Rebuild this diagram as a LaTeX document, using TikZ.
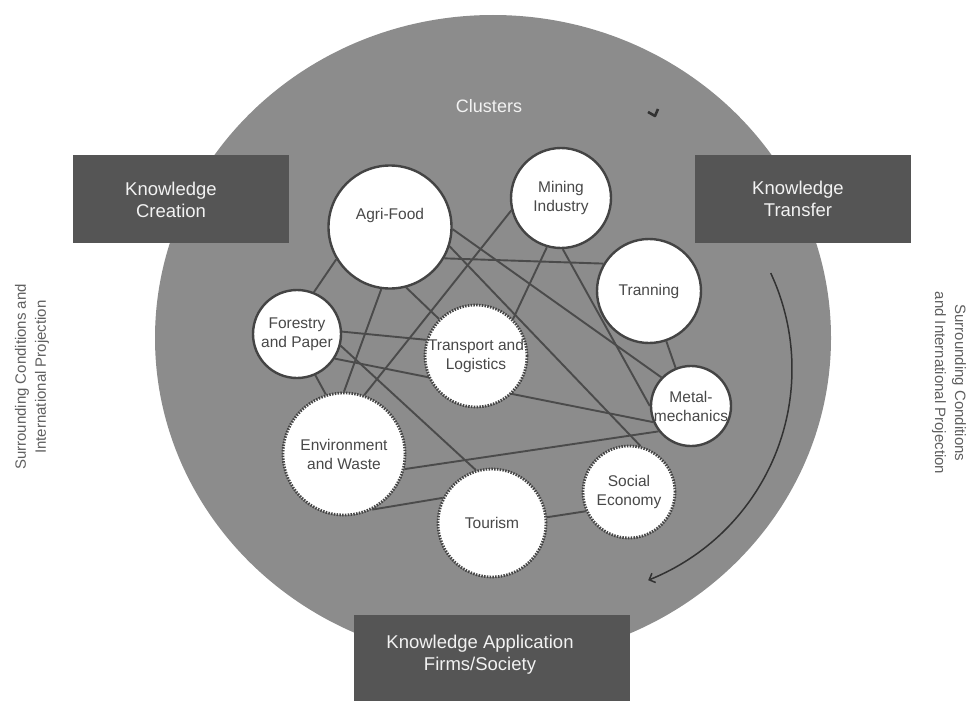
\documentclass[tikz,border=0pt]{standalone}
\usepackage{fontspec}
\setmainfont{Liberation Sans}
\usetikzlibrary{arrows.meta}
\pgfdeclarelayer{back}
\pgfdeclarelayer{edges}
\pgfsetlayers{back,edges,main}
\definecolor{bigfill}{RGB}{140,140,140}
\definecolor{boxc}{RGB}{85,85,85}
\definecolor{boxtxt}{RGB}{242,242,242}
\definecolor{circ}{RGB}{68,68,68}
\definecolor{linec}{RGB}{75,75,75}
\definecolor{nodetxt}{RGB}{72,72,72}
\definecolor{sidetxt}{RGB}{95,95,95}
\definecolor{arrowc}{RGB}{50,50,50}
\newcommand\nodefnt{\fontsize{15.5}{19}\selectfont}
\newcommand\boxfnt{\fontsize{18.5}{22}\selectfont}
\newcommand\sidefnt{\fontsize{15}{20}\selectfont}
\tikzset{
  clbase/.style={circle, draw=circ, fill=white, line width=2.4pt, inner sep=0pt},
  solidc/.style={clbase},
  dotc/.style={clbase, line width=2.8pt, dash pattern=on 1.5pt off 1.3pt},
  lbl/.style={font=\nodefnt, text=nodetxt, align=center, inner sep=0pt},
  link/.style={draw=linec, line width=1.9pt},
  boxst/.style={rectangle, fill=boxc, draw=none, inner sep=0pt},
  boxlbl/.style={font=\boxfnt, text=boxtxt, align=center, inner sep=0pt},
  sidelbl/.style={font=\sidefnt, text=sidetxt, align=center, inner sep=0pt}
}
\begin{document}
\begin{tikzpicture}[x=1pt,y=-1pt]
\useasboundingbox (0,0) rectangle (971,701);
% background disc and boxes
\begin{pgfonlayer}{back}
  \fill[bigfill] (493,338) ellipse [x radius=338, y radius=323];
  \node[boxst, minimum width=216pt, minimum height=88pt] (kcBox) at (181,199) {};
  \node[boxst, minimum width=216pt, minimum height=88pt] (ktBox) at (803,199) {};
  \node[boxst, minimum width=276pt, minimum height=86pt] (kaBox) at (492,658) {};
  \draw[arrowc, line width=1.5pt, -{Straight Barb[length=5pt,width=10pt]}]
    plot[smooth, domain=-25:68.5, samples=40] ({565+227*cos(\x)},{369+227*sin(\x)});
  \draw[arrowc, line width=2.6pt, line join=round] (648,112) -- (655,116) -- (658,109);
\end{pgfonlayer}

% texts outside the clusters
\node[boxlbl] (kcText) at (171,200) {Knowledge\\Creation};
\node[boxlbl] (ktText) at (798,199) {Knowledge\\Transfer};
\node[boxlbl] (kaText) at (480,655) {Knowledge Application\\Firms/Society};
\node[font=\fontsize{18}{21}\selectfont, text=boxtxt, inner sep=0pt] (clusters) at (489,106) {Clusters};
\node[sidelbl, rotate=90] (leftSide) at (32,377) {Surrounding Conditions and\\International Projection};
\node[sidelbl, rotate=-90] (rightSide) at (949,383) {Surrounding Conditions\\and International Projection};

% cluster circles
\node[solidc, minimum size=123pt] (agri) at (390,227) {};
\node[lbl] (agriT) at (390,215) {Agri-Food};
\node[solidc, minimum size=100pt, lbl] (mining) at (561,198) {Mining\\Industry};
\node[solidc, minimum size=104pt, lbl] (tran) at (649,291) {Tranning};
\node[solidc, minimum size=80pt, lbl] (metal) at (691,406) {Metal-\\mechanics};
\node[solidc, minimum size=88pt, lbl] (forest) at (297,334) {Forestry\\and Paper};
\node[dotc, minimum size=102pt, lbl] (transp) at (476,356) {Transport and\\Logistics};
\node[dotc, minimum size=122pt, lbl] (env) at (344,454) {Environment\\and Waste};
\node[dotc, minimum size=108pt, lbl] (tour) at (492,523) {Tourism};
\node[dotc, minimum size=92pt, lbl] (social) at (629,492) {Social\\Economy};

% connectors
\begin{pgfonlayer}{edges}
  \draw[link] (agri.211) -- (forest.68);
  \draw[link] (agri.262.6) -- (env.90.6);
  \draw[link] (agri.285) -- (transp.135.8);
  \draw[link] (agri.358) -- (metal.136.6);
  \draw[link] (agri.342) -- (social.76);
  \draw[link] (agri.330) -- (tran.149.6);
  \draw[link] (forest.3) -- (transp.162);
  \draw[link] (forest.327.4) -- (metal.203.8);
  \draw[link] (forest.345.7) -- (tour.107.6);
  \draw[link] (forest.294.8) -- (env.107);
  \draw[link] (env.71) -- (mining.194);
  \draw[link] (mining.254.7) -- (transp.45.8);
  \draw[link] (mining.272.6) -- (metal.180);
  \draw[link] (tran.289) -- (metal.112);
  \draw[link] (env.346) -- (metal.218.9);
  \draw[link] (env.297) -- (tour.153);
  \draw[link] (tour.6.4) -- (social.204);
\end{pgfonlayer}
\end{tikzpicture}
\end{document}
